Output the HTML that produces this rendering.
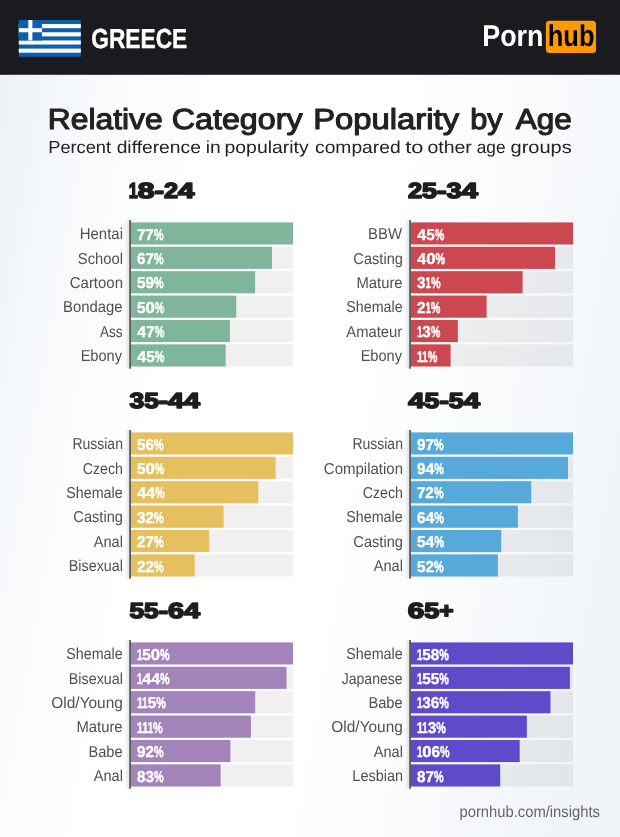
<!DOCTYPE html>
<html><head><meta charset="utf-8"><title>Relative Category Popularity by Age - Greece</title>
<style>
html,body{margin:0;padding:0;}
body{width:620px;height:837px;overflow:hidden;background:#fff;}
#page{position:relative;width:620px;height:837px;overflow:hidden;background:linear-gradient(100deg,#eaf0f5 0%,#f6f9fb 12%,#ffffff 30%,#ffffff 55%,#eef3f7 100%);}
svg{position:absolute;left:0;top:0;font-family:"Liberation Sans",sans-serif;text-rendering:geometricPrecision;}
.l{font-size:15.8px;fill:#505050}
.v{font-size:15.7px;fill:#fff;font-weight:bold;stroke:#fff;stroke-width:0.4px}
.s{font-size:21.8px;fill:#1e1e1e;font-weight:bold;stroke:#1e1e1e;stroke-width:1.6px;stroke-linejoin:round}
.p{stroke-width:0.5px}
.o{stroke-width:0.5px}
</style></head><body><div id="page">
<svg width="620" height="837" viewBox="0 0 620 837">
<defs><linearGradient id="sh" x1="0" x2="1" y1="0" y2="0"><stop offset="0" stop-color="#808890" stop-opacity="0"/><stop offset="1" stop-color="#808890" stop-opacity="0.24"/></linearGradient></defs>
<rect x="0" y="0" width="620" height="74.8" fill="#1b1b1f"/>
<g transform="translate(18.8,20)"><rect width="62" height="36.8" fill="#0d5eaf"/><rect x="0" y="4.09" width="62" height="4.09" fill="#fff"/><rect x="0" y="12.27" width="62" height="4.09" fill="#fff"/><rect x="0" y="20.44" width="62" height="4.09" fill="#fff"/><rect x="0" y="28.62" width="62" height="4.09" fill="#fff"/><rect x="0" y="0" width="23.10" height="20.44" fill="#0d5eaf"/><rect x="9.51" y="0" width="4.09" height="20.44" fill="#fff"/><rect x="0" y="8.18" width="23.10" height="4.09" fill="#fff"/></g>
<text transform="translate(91.26,47.60) scale(0.8261,1)" font-size="27.5" fill="#fff" font-weight="bold" stroke="#fff" stroke-width="0.4" stroke-linejoin="round">GREECE</text>
<text transform="translate(482.25,46.00) scale(0.8961,1)" font-size="30" fill="#fff" font-weight="bold">Porn</text>
<rect x="545.9" y="20.7" width="50.1" height="32.3" rx="3.5" fill="#ff9900"/>
<text transform="translate(547.71,46.00) scale(0.8508,1)" font-size="30" fill="#000" font-weight="bold">hub</text>
<text transform="translate(47.76,129.00) scale(1.0967,1)" font-size="29" fill="#222" stroke="#222" stroke-width="1.1" stroke-linejoin="round">Relative</text>
<text transform="translate(171.80,129.00) scale(1.1108,1)" font-size="29" fill="#222" stroke="#222" stroke-width="1.1" stroke-linejoin="round">Category</text>
<text transform="translate(313.20,129.00) scale(1.1309,1)" font-size="29" fill="#222" stroke="#222" stroke-width="1.1" stroke-linejoin="round">Popularity</text>
<text transform="translate(470.18,129.00) scale(1.0600,1)" font-size="29" fill="#222" stroke="#222" stroke-width="1.1" stroke-linejoin="round">by</text>
<text transform="translate(515.80,129.00) scale(1.0861,1)" font-size="29" fill="#222" stroke="#222" stroke-width="1.1" stroke-linejoin="round">Age</text>
<text transform="translate(48.24,153.00) scale(1.0485,1)" font-size="17.4" fill="#222">Percent</text>
<text transform="translate(116.63,153.00) scale(1.1079,1)" font-size="17.4" fill="#222">difference</text>
<text transform="translate(205.75,153.00) scale(1.1049,1)" font-size="17.4" fill="#222">in</text>
<text transform="translate(224.54,153.00) scale(1.1158,1)" font-size="17.4" fill="#222">popularity</text>
<text transform="translate(315.03,153.00) scale(1.1071,1)" font-size="17.4" fill="#222">compared</text>
<text transform="translate(405.27,153.00) scale(1.2526,1)" font-size="17.4" fill="#222">to</text>
<text transform="translate(427.42,153.00) scale(1.1210,1)" font-size="17.4" fill="#222">other</text>
<text transform="translate(476.71,153.00) scale(0.9935,1)" font-size="17.4" fill="#222">age</text>
<text transform="translate(510.50,153.00) scale(1.1514,1)" font-size="17.4" fill="#222">groups</text>
<rect x="124.70" y="220.00" width="4.5" height="148.7" fill="url(#sh)"/>
<rect x="129.20" y="220.00" width="1.8" height="148.7" fill="#5a5a5a"/>
<rect x="131.00" y="222.40" width="162.00" height="22.1" fill="#7fb59b"/>
<rect x="131.00" y="246.80" width="162" height="22.1" fill="#000" fill-opacity="0.058"/>
<rect x="131.00" y="246.80" width="140.96" height="22.1" fill="#7fb59b"/>
<rect x="131.00" y="271.20" width="162" height="22.1" fill="#000" fill-opacity="0.058"/>
<rect x="131.00" y="271.20" width="124.13" height="22.1" fill="#7fb59b"/>
<rect x="131.00" y="295.60" width="162" height="22.1" fill="#000" fill-opacity="0.058"/>
<rect x="131.00" y="295.60" width="105.19" height="22.1" fill="#7fb59b"/>
<rect x="131.00" y="320.00" width="162" height="22.1" fill="#000" fill-opacity="0.058"/>
<rect x="131.00" y="320.00" width="98.88" height="22.1" fill="#7fb59b"/>
<rect x="131.00" y="344.40" width="162" height="22.1" fill="#000" fill-opacity="0.058"/>
<rect x="131.00" y="344.40" width="94.68" height="22.1" fill="#7fb59b"/>
<rect x="404.70" y="220.00" width="4.5" height="148.7" fill="url(#sh)"/>
<rect x="409.20" y="220.00" width="1.8" height="148.7" fill="#5a5a5a"/>
<rect x="411.00" y="222.40" width="162.00" height="22.1" fill="#cc4850"/>
<rect x="411.00" y="246.80" width="162" height="22.1" fill="#000" fill-opacity="0.058"/>
<rect x="411.00" y="246.80" width="144.00" height="22.1" fill="#cc4850"/>
<rect x="411.00" y="271.20" width="162" height="22.1" fill="#000" fill-opacity="0.058"/>
<rect x="411.00" y="271.20" width="111.60" height="22.1" fill="#cc4850"/>
<rect x="411.00" y="295.60" width="162" height="22.1" fill="#000" fill-opacity="0.058"/>
<rect x="411.00" y="295.60" width="75.60" height="22.1" fill="#cc4850"/>
<rect x="411.00" y="320.00" width="162" height="22.1" fill="#000" fill-opacity="0.058"/>
<rect x="411.00" y="320.00" width="46.80" height="22.1" fill="#cc4850"/>
<rect x="411.00" y="344.40" width="162" height="22.1" fill="#000" fill-opacity="0.058"/>
<rect x="411.00" y="344.40" width="39.60" height="22.1" fill="#cc4850"/>
<rect x="124.70" y="430.00" width="4.5" height="148.7" fill="url(#sh)"/>
<rect x="129.20" y="430.00" width="1.8" height="148.7" fill="#5a5a5a"/>
<rect x="131.00" y="432.40" width="162.00" height="22.1" fill="#e6bf5f"/>
<rect x="131.00" y="456.80" width="162" height="22.1" fill="#000" fill-opacity="0.058"/>
<rect x="131.00" y="456.80" width="144.64" height="22.1" fill="#e6bf5f"/>
<rect x="131.00" y="481.20" width="162" height="22.1" fill="#000" fill-opacity="0.058"/>
<rect x="131.00" y="481.20" width="127.29" height="22.1" fill="#e6bf5f"/>
<rect x="131.00" y="505.60" width="162" height="22.1" fill="#000" fill-opacity="0.058"/>
<rect x="131.00" y="505.60" width="92.57" height="22.1" fill="#e6bf5f"/>
<rect x="131.00" y="530.00" width="162" height="22.1" fill="#000" fill-opacity="0.058"/>
<rect x="131.00" y="530.00" width="78.11" height="22.1" fill="#e6bf5f"/>
<rect x="131.00" y="554.40" width="162" height="22.1" fill="#000" fill-opacity="0.058"/>
<rect x="131.00" y="554.40" width="63.64" height="22.1" fill="#e6bf5f"/>
<rect x="404.70" y="430.00" width="4.5" height="148.7" fill="url(#sh)"/>
<rect x="409.20" y="430.00" width="1.8" height="148.7" fill="#5a5a5a"/>
<rect x="411.00" y="432.40" width="162.00" height="22.1" fill="#56a9d8"/>
<rect x="411.00" y="456.80" width="162" height="22.1" fill="#000" fill-opacity="0.058"/>
<rect x="411.00" y="456.80" width="156.99" height="22.1" fill="#56a9d8"/>
<rect x="411.00" y="481.20" width="162" height="22.1" fill="#000" fill-opacity="0.058"/>
<rect x="411.00" y="481.20" width="120.25" height="22.1" fill="#56a9d8"/>
<rect x="411.00" y="505.60" width="162" height="22.1" fill="#000" fill-opacity="0.058"/>
<rect x="411.00" y="505.60" width="106.89" height="22.1" fill="#56a9d8"/>
<rect x="411.00" y="530.00" width="162" height="22.1" fill="#000" fill-opacity="0.058"/>
<rect x="411.00" y="530.00" width="90.19" height="22.1" fill="#56a9d8"/>
<rect x="411.00" y="554.40" width="162" height="22.1" fill="#000" fill-opacity="0.058"/>
<rect x="411.00" y="554.40" width="86.85" height="22.1" fill="#56a9d8"/>
<rect x="124.70" y="640.00" width="4.5" height="148.7" fill="url(#sh)"/>
<rect x="129.20" y="640.00" width="1.8" height="148.7" fill="#5a5a5a"/>
<rect x="131.00" y="642.40" width="162.00" height="22.1" fill="#a284ba"/>
<rect x="131.00" y="666.80" width="162" height="22.1" fill="#000" fill-opacity="0.058"/>
<rect x="131.00" y="666.80" width="155.52" height="22.1" fill="#a284ba"/>
<rect x="131.00" y="691.20" width="162" height="22.1" fill="#000" fill-opacity="0.058"/>
<rect x="131.00" y="691.20" width="124.20" height="22.1" fill="#a284ba"/>
<rect x="131.00" y="715.60" width="162" height="22.1" fill="#000" fill-opacity="0.058"/>
<rect x="131.00" y="715.60" width="119.88" height="22.1" fill="#a284ba"/>
<rect x="131.00" y="740.00" width="162" height="22.1" fill="#000" fill-opacity="0.058"/>
<rect x="131.00" y="740.00" width="99.36" height="22.1" fill="#a284ba"/>
<rect x="131.00" y="764.40" width="162" height="22.1" fill="#000" fill-opacity="0.058"/>
<rect x="131.00" y="764.40" width="89.64" height="22.1" fill="#a284ba"/>
<rect x="404.70" y="640.00" width="4.5" height="148.7" fill="url(#sh)"/>
<rect x="409.20" y="640.00" width="1.8" height="148.7" fill="#5a5a5a"/>
<rect x="411.00" y="642.40" width="162.00" height="22.1" fill="#5f4bc9"/>
<rect x="411.00" y="666.80" width="162" height="22.1" fill="#000" fill-opacity="0.058"/>
<rect x="411.00" y="666.80" width="158.92" height="22.1" fill="#5f4bc9"/>
<rect x="411.00" y="691.20" width="162" height="22.1" fill="#000" fill-opacity="0.058"/>
<rect x="411.00" y="691.20" width="139.44" height="22.1" fill="#5f4bc9"/>
<rect x="411.00" y="715.60" width="162" height="22.1" fill="#000" fill-opacity="0.058"/>
<rect x="411.00" y="715.60" width="115.86" height="22.1" fill="#5f4bc9"/>
<rect x="411.00" y="740.00" width="162" height="22.1" fill="#000" fill-opacity="0.058"/>
<rect x="411.00" y="740.00" width="108.68" height="22.1" fill="#5f4bc9"/>
<rect x="411.00" y="764.40" width="162" height="22.1" fill="#000" fill-opacity="0.058"/>
<rect x="411.00" y="764.40" width="89.20" height="22.1" fill="#5f4bc9"/>
<text x="128.75" y="198" class="s"><tspan textLength="8.97" lengthAdjust="spacingAndGlyphs">1</tspan><tspan textLength="16.71" lengthAdjust="spacingAndGlyphs">8</tspan><tspan textLength="9.48" lengthAdjust="spacingAndGlyphs">-</tspan><tspan textLength="14.06" lengthAdjust="spacingAndGlyphs">2</tspan><tspan textLength="16.40" lengthAdjust="spacingAndGlyphs">4</tspan></text>
<text transform="translate(79.70,239.00) scale(0.9476,1)" class="l">Hentai</text>
<text x="136.89" y="240" class="v"><tspan textLength="17.00" lengthAdjust="spacingAndGlyphs">77</tspan><tspan textLength="9.60" lengthAdjust="spacingAndGlyphs" class="p">%</tspan></text>
<text transform="translate(77.84,264.00) scale(0.9349,1)" class="l">School</text>
<text x="136.97" y="264" class="v"><tspan textLength="17.00" lengthAdjust="spacingAndGlyphs">67</tspan><tspan textLength="9.60" lengthAdjust="spacingAndGlyphs" class="p">%</tspan></text>
<text transform="translate(69.75,288.00) scale(0.9475,1)" class="l">Cartoon</text>
<text x="137.04" y="288" class="v"><tspan textLength="17.00" lengthAdjust="spacingAndGlyphs">59</tspan><tspan textLength="9.60" lengthAdjust="spacingAndGlyphs" class="p">%</tspan></text>
<text transform="translate(63.01,312.00) scale(0.9416,1)" class="l">Bondage</text>
<text x="137.04" y="313" class="v"><tspan textLength="8.50" lengthAdjust="spacingAndGlyphs">5</tspan><tspan textLength="9.30" lengthAdjust="spacingAndGlyphs">0</tspan><tspan textLength="9.60" lengthAdjust="spacingAndGlyphs" class="p">%</tspan></text>
<text transform="translate(100.00,337.00) scale(0.8542,1)" class="l">Ass</text>
<text x="137.26" y="337" class="v"><tspan textLength="8.90" lengthAdjust="spacingAndGlyphs">4</tspan><tspan textLength="8.50" lengthAdjust="spacingAndGlyphs">7</tspan><tspan textLength="9.60" lengthAdjust="spacingAndGlyphs" class="p">%</tspan></text>
<text transform="translate(80.63,361.00) scale(0.9235,1)" class="l">Ebony</text>
<text x="137.26" y="362" class="v"><tspan textLength="8.90" lengthAdjust="spacingAndGlyphs">4</tspan><tspan textLength="8.50" lengthAdjust="spacingAndGlyphs">5</tspan><tspan textLength="9.60" lengthAdjust="spacingAndGlyphs" class="p">%</tspan></text>
<text x="407.93" y="198" class="s"><tspan textLength="14.09" lengthAdjust="spacingAndGlyphs">2</tspan><tspan textLength="15.01" lengthAdjust="spacingAndGlyphs">5</tspan><tspan textLength="9.49" lengthAdjust="spacingAndGlyphs">-</tspan><tspan textLength="15.11" lengthAdjust="spacingAndGlyphs">3</tspan><tspan textLength="16.44" lengthAdjust="spacingAndGlyphs">4</tspan></text>
<text transform="translate(368.11,239.00) scale(0.9429,1)" class="l">BBW</text>
<text x="417.26" y="240" class="v"><tspan textLength="8.90" lengthAdjust="spacingAndGlyphs">4</tspan><tspan textLength="8.50" lengthAdjust="spacingAndGlyphs">5</tspan><tspan textLength="9.60" lengthAdjust="spacingAndGlyphs" class="p">%</tspan></text>
<text transform="translate(353.37,264.00) scale(0.9243,1)" class="l">Casting</text>
<text x="417.26" y="264" class="v"><tspan textLength="8.90" lengthAdjust="spacingAndGlyphs">4</tspan><tspan textLength="9.30" lengthAdjust="spacingAndGlyphs">0</tspan><tspan textLength="9.60" lengthAdjust="spacingAndGlyphs" class="p">%</tspan></text>
<text transform="translate(356.41,288.00) scale(0.9398,1)" class="l">Mature</text>
<text x="417.12" y="288" class="v"><tspan textLength="8.50" lengthAdjust="spacingAndGlyphs">3</tspan><tspan textLength="5.40" lengthAdjust="spacingAndGlyphs" class="o">1</tspan><tspan textLength="9.60" lengthAdjust="spacingAndGlyphs" class="p">%</tspan></text>
<text transform="translate(346.26,312.00) scale(0.9035,1)" class="l">Shemale</text>
<text x="416.97" y="313" class="v"><tspan textLength="8.50" lengthAdjust="spacingAndGlyphs">2</tspan><tspan textLength="5.40" lengthAdjust="spacingAndGlyphs" class="o">1</tspan><tspan textLength="9.60" lengthAdjust="spacingAndGlyphs" class="p">%</tspan></text>
<text transform="translate(346.30,337.00) scale(0.9363,1)" class="l">Amateur</text>
<text x="416.92" y="337" class="v"><tspan textLength="5.40" lengthAdjust="spacingAndGlyphs" class="o">1</tspan><tspan textLength="8.50" lengthAdjust="spacingAndGlyphs">3</tspan><tspan textLength="9.60" lengthAdjust="spacingAndGlyphs" class="p">%</tspan></text>
<text transform="translate(360.63,361.00) scale(0.9235,1)" class="l">Ebony</text>
<text x="416.92" y="362" class="v"><tspan textLength="5.40" lengthAdjust="spacingAndGlyphs" class="o">1</tspan><tspan textLength="5.40" lengthAdjust="spacingAndGlyphs" class="o">1</tspan><tspan textLength="9.60" lengthAdjust="spacingAndGlyphs" class="p">%</tspan></text>
<text x="129.53" y="408" class="s"><tspan textLength="14.69" lengthAdjust="spacingAndGlyphs">3</tspan><tspan textLength="14.59" lengthAdjust="spacingAndGlyphs">5</tspan><tspan textLength="9.23" lengthAdjust="spacingAndGlyphs">-</tspan><tspan textLength="31.95" lengthAdjust="spacingAndGlyphs">44</tspan></text>
<text transform="translate(72.38,449.00) scale(0.8859,1)" class="l">Russian</text>
<text x="137.04" y="450" class="v"><tspan textLength="17.00" lengthAdjust="spacingAndGlyphs">56</tspan><tspan textLength="9.60" lengthAdjust="spacingAndGlyphs" class="p">%</tspan></text>
<text transform="translate(82.79,474.00) scale(0.8958,1)" class="l">Czech</text>
<text x="137.04" y="474" class="v"><tspan textLength="8.50" lengthAdjust="spacingAndGlyphs">5</tspan><tspan textLength="9.30" lengthAdjust="spacingAndGlyphs">0</tspan><tspan textLength="9.60" lengthAdjust="spacingAndGlyphs" class="p">%</tspan></text>
<text transform="translate(66.26,498.00) scale(0.9035,1)" class="l">Shemale</text>
<text x="137.26" y="498" class="v"><tspan textLength="17.80" lengthAdjust="spacingAndGlyphs">44</tspan><tspan textLength="9.60" lengthAdjust="spacingAndGlyphs" class="p">%</tspan></text>
<text transform="translate(73.37,522.00) scale(0.9243,1)" class="l">Casting</text>
<text x="137.12" y="523" class="v"><tspan textLength="17.00" lengthAdjust="spacingAndGlyphs">32</tspan><tspan textLength="9.60" lengthAdjust="spacingAndGlyphs" class="p">%</tspan></text>
<text transform="translate(93.80,547.00) scale(0.9224,1)" class="l">Anal</text>
<text x="136.97" y="547" class="v"><tspan textLength="17.00" lengthAdjust="spacingAndGlyphs">27</tspan><tspan textLength="9.60" lengthAdjust="spacingAndGlyphs" class="p">%</tspan></text>
<text transform="translate(68.75,571.00) scale(0.9071,1)" class="l">Bisexual</text>
<text x="136.97" y="572" class="v"><tspan textLength="17.00" lengthAdjust="spacingAndGlyphs">22</tspan><tspan textLength="9.60" lengthAdjust="spacingAndGlyphs" class="p">%</tspan></text>
<text x="408.37" y="408" class="s"><tspan textLength="16.26" lengthAdjust="spacingAndGlyphs">4</tspan><tspan textLength="14.85" lengthAdjust="spacingAndGlyphs">5</tspan><tspan textLength="9.39" lengthAdjust="spacingAndGlyphs">-</tspan><tspan textLength="14.85" lengthAdjust="spacingAndGlyphs">5</tspan><tspan textLength="16.26" lengthAdjust="spacingAndGlyphs">4</tspan></text>
<text transform="translate(352.38,449.00) scale(0.8859,1)" class="l">Russian</text>
<text x="416.97" y="450" class="v"><tspan textLength="17.00" lengthAdjust="spacingAndGlyphs">97</tspan><tspan textLength="9.60" lengthAdjust="spacingAndGlyphs" class="p">%</tspan></text>
<text transform="translate(323.85,474.00) scale(0.9484,1)" class="l">Compilation</text>
<text x="416.97" y="474" class="v"><tspan textLength="8.50" lengthAdjust="spacingAndGlyphs">9</tspan><tspan textLength="8.90" lengthAdjust="spacingAndGlyphs">4</tspan><tspan textLength="9.60" lengthAdjust="spacingAndGlyphs" class="p">%</tspan></text>
<text transform="translate(362.79,498.00) scale(0.8958,1)" class="l">Czech</text>
<text x="416.89" y="498" class="v"><tspan textLength="17.00" lengthAdjust="spacingAndGlyphs">72</tspan><tspan textLength="9.60" lengthAdjust="spacingAndGlyphs" class="p">%</tspan></text>
<text transform="translate(346.26,522.00) scale(0.9035,1)" class="l">Shemale</text>
<text x="416.97" y="523" class="v"><tspan textLength="8.50" lengthAdjust="spacingAndGlyphs">6</tspan><tspan textLength="8.90" lengthAdjust="spacingAndGlyphs">4</tspan><tspan textLength="9.60" lengthAdjust="spacingAndGlyphs" class="p">%</tspan></text>
<text transform="translate(353.37,547.00) scale(0.9243,1)" class="l">Casting</text>
<text x="417.04" y="547" class="v"><tspan textLength="8.50" lengthAdjust="spacingAndGlyphs">5</tspan><tspan textLength="8.90" lengthAdjust="spacingAndGlyphs">4</tspan><tspan textLength="9.60" lengthAdjust="spacingAndGlyphs" class="p">%</tspan></text>
<text transform="translate(373.80,571.00) scale(0.9224,1)" class="l">Anal</text>
<text x="417.04" y="572" class="v"><tspan textLength="17.00" lengthAdjust="spacingAndGlyphs">52</tspan><tspan textLength="9.60" lengthAdjust="spacingAndGlyphs" class="p">%</tspan></text>
<text x="129.41" y="618" class="s"><tspan textLength="29.27" lengthAdjust="spacingAndGlyphs">55</tspan><tspan textLength="9.26" lengthAdjust="spacingAndGlyphs">-</tspan><tspan textLength="32.05" lengthAdjust="spacingAndGlyphs">64</tspan></text>
<text transform="translate(66.26,659.00) scale(0.9035,1)" class="l">Shemale</text>
<text x="136.92" y="660" class="v"><tspan textLength="5.40" lengthAdjust="spacingAndGlyphs" class="o">1</tspan><tspan textLength="8.50" lengthAdjust="spacingAndGlyphs">5</tspan><tspan textLength="9.30" lengthAdjust="spacingAndGlyphs">0</tspan><tspan textLength="9.60" lengthAdjust="spacingAndGlyphs" class="p">%</tspan></text>
<text transform="translate(68.75,684.00) scale(0.9071,1)" class="l">Bisexual</text>
<text x="136.92" y="684" class="v"><tspan textLength="5.40" lengthAdjust="spacingAndGlyphs" class="o">1</tspan><tspan textLength="17.80" lengthAdjust="spacingAndGlyphs">44</tspan><tspan textLength="9.60" lengthAdjust="spacingAndGlyphs" class="p">%</tspan></text>
<text transform="translate(51.30,708.00) scale(0.9780,1)" class="l">Old/Young</text>
<text x="136.92" y="708" class="v"><tspan textLength="5.40" lengthAdjust="spacingAndGlyphs" class="o">1</tspan><tspan textLength="5.40" lengthAdjust="spacingAndGlyphs" class="o">1</tspan><tspan textLength="8.50" lengthAdjust="spacingAndGlyphs">5</tspan><tspan textLength="9.60" lengthAdjust="spacingAndGlyphs" class="p">%</tspan></text>
<text transform="translate(76.41,732.00) scale(0.9398,1)" class="l">Mature</text>
<text x="136.92" y="733" class="v"><tspan textLength="5.40" lengthAdjust="spacingAndGlyphs" class="o">1</tspan><tspan textLength="5.40" lengthAdjust="spacingAndGlyphs" class="o">1</tspan><tspan textLength="5.40" lengthAdjust="spacingAndGlyphs" class="o">1</tspan><tspan textLength="9.60" lengthAdjust="spacingAndGlyphs" class="p">%</tspan></text>
<text transform="translate(88.43,757.00) scale(0.9258,1)" class="l">Babe</text>
<text x="136.97" y="757" class="v"><tspan textLength="17.00" lengthAdjust="spacingAndGlyphs">92</tspan><tspan textLength="9.60" lengthAdjust="spacingAndGlyphs" class="p">%</tspan></text>
<text transform="translate(93.80,781.00) scale(0.9224,1)" class="l">Anal</text>
<text x="137.04" y="782" class="v"><tspan textLength="17.00" lengthAdjust="spacingAndGlyphs">83</tspan><tspan textLength="9.60" lengthAdjust="spacingAndGlyphs" class="p">%</tspan></text>
<text x="407.78" y="618" class="s"><tspan textLength="16.48" lengthAdjust="spacingAndGlyphs">6</tspan><tspan textLength="15.05" lengthAdjust="spacingAndGlyphs">5</tspan><tspan textLength="14.33" lengthAdjust="spacingAndGlyphs">+</tspan></text>
<text transform="translate(346.26,659.00) scale(0.9035,1)" class="l">Shemale</text>
<text x="416.92" y="660" class="v"><tspan textLength="5.40" lengthAdjust="spacingAndGlyphs" class="o">1</tspan><tspan textLength="17.00" lengthAdjust="spacingAndGlyphs">58</tspan><tspan textLength="9.60" lengthAdjust="spacingAndGlyphs" class="p">%</tspan></text>
<text transform="translate(341.69,684.00) scale(0.8887,1)" class="l">Japanese</text>
<text x="416.92" y="684" class="v"><tspan textLength="5.40" lengthAdjust="spacingAndGlyphs" class="o">1</tspan><tspan textLength="17.00" lengthAdjust="spacingAndGlyphs">55</tspan><tspan textLength="9.60" lengthAdjust="spacingAndGlyphs" class="p">%</tspan></text>
<text transform="translate(368.43,708.00) scale(0.9258,1)" class="l">Babe</text>
<text x="416.92" y="708" class="v"><tspan textLength="5.40" lengthAdjust="spacingAndGlyphs" class="o">1</tspan><tspan textLength="17.00" lengthAdjust="spacingAndGlyphs">36</tspan><tspan textLength="9.60" lengthAdjust="spacingAndGlyphs" class="p">%</tspan></text>
<text transform="translate(331.30,732.00) scale(0.9780,1)" class="l">Old/Young</text>
<text x="416.92" y="733" class="v"><tspan textLength="5.40" lengthAdjust="spacingAndGlyphs" class="o">1</tspan><tspan textLength="5.40" lengthAdjust="spacingAndGlyphs" class="o">1</tspan><tspan textLength="8.50" lengthAdjust="spacingAndGlyphs">3</tspan><tspan textLength="9.60" lengthAdjust="spacingAndGlyphs" class="p">%</tspan></text>
<text transform="translate(373.80,757.00) scale(0.9224,1)" class="l">Anal</text>
<text x="416.92" y="757" class="v"><tspan textLength="5.40" lengthAdjust="spacingAndGlyphs" class="o">1</tspan><tspan textLength="9.30" lengthAdjust="spacingAndGlyphs">0</tspan><tspan textLength="8.50" lengthAdjust="spacingAndGlyphs">6</tspan><tspan textLength="9.60" lengthAdjust="spacingAndGlyphs" class="p">%</tspan></text>
<text transform="translate(352.34,781.00) scale(0.9149,1)" class="l">Lesbian</text>
<text x="417.04" y="782" class="v"><tspan textLength="17.00" lengthAdjust="spacingAndGlyphs">87</tspan><tspan textLength="9.60" lengthAdjust="spacingAndGlyphs" class="p">%</tspan></text>
<text transform="translate(459.44,817.00) scale(0.9237,1)" font-size="16" fill="#666">pornhub.com/insights</text>
</svg></div></body></html>
